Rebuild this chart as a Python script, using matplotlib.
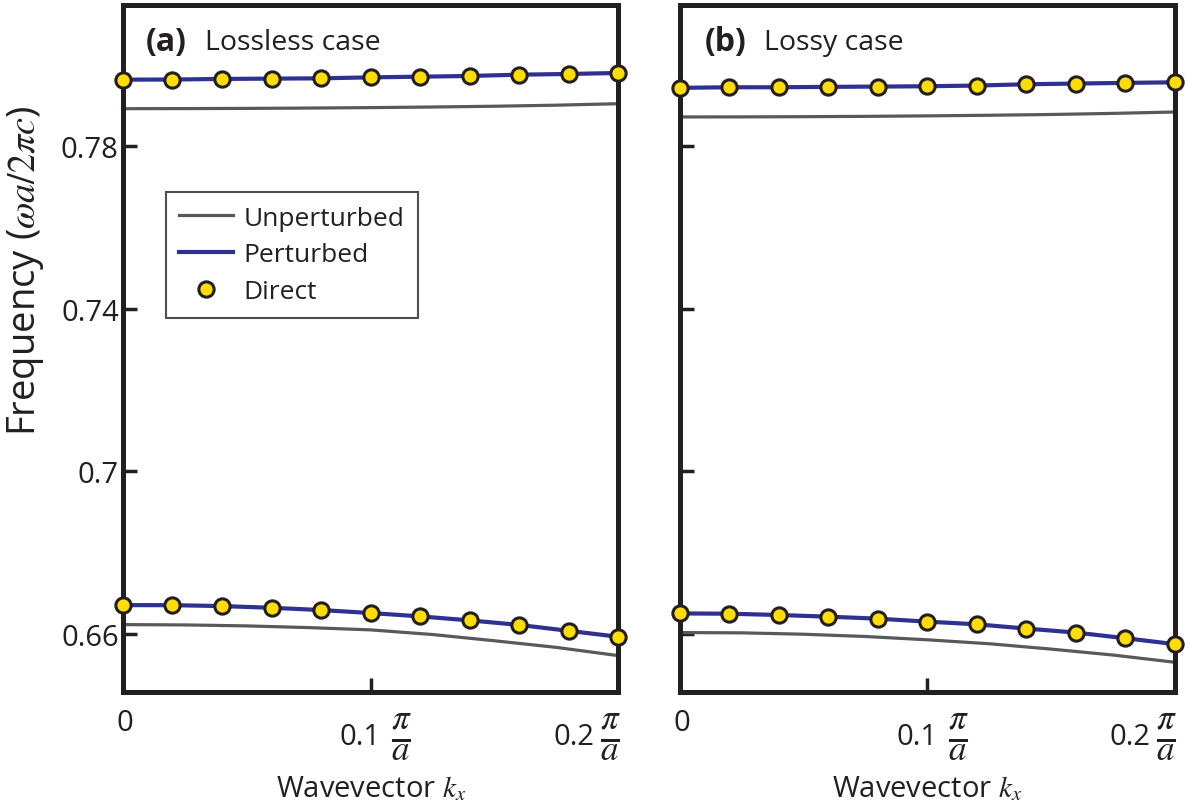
import numpy as np
import matplotlib
matplotlib.use("Agg")
import matplotlib.pyplot as plt

plt.rcParams['font.family'] = ['Open Sans', 'DejaVu Sans']
plt.rcParams['mathtext.fontset'] = 'stix'

# wavevector samples (units of pi/a)
k = [0.0, 0.02, 0.04, 0.06, 0.08, 0.10, 0.12, 0.14, 0.16, 0.18, 0.20]
k_unp = [0.0, 0.025, 0.05, 0.075, 0.10, 0.125, 0.15, 0.175, 0.20]

# (a) lossless case
a_top_pert = [0.79634, 0.79636, 0.79651, 0.79659, 0.79666, 0.79690, 0.79707, 0.79724, 0.79756, 0.79773, 0.79798]
a_bot_pert = [0.66700, 0.66698, 0.66676, 0.66634, 0.66578, 0.66505, 0.66422, 0.66324, 0.66212, 0.66066, 0.65920]
a_top_unp = [0.78919, 0.78921, 0.78926, 0.78934, 0.78945, 0.78960, 0.78979, 0.79005, 0.79041]
a_bot_unp = [0.66220, 0.66212, 0.66188, 0.66146, 0.66090, 0.65976, 0.65822, 0.65659, 0.65456]

# (b) lossy case
b_top_pert = [0.79432, 0.79446, 0.79446, 0.79456, 0.79463, 0.79471, 0.79488, 0.79520, 0.79537, 0.79554, 0.79568]
b_bot_pert = [0.66495, 0.66488, 0.66456, 0.66415, 0.66366, 0.66293, 0.66227, 0.66122, 0.66024, 0.65885, 0.65739]
b_top_unp = [0.78715, 0.78717, 0.78722, 0.78730, 0.78742, 0.78757, 0.78776, 0.78803, 0.78837]
b_bot_unp = [0.66024, 0.66017, 0.65983, 0.65927, 0.65846, 0.65749, 0.65617, 0.65471, 0.65293]

yticks = [0.66, 0.70, 0.74, 0.78]
ytick_labels = ['0.66', '0.7', '0.74', '0.78']
xticks = [0.0, 0.1, 0.2]
xtick_nums = ['0', '0.1', '0.2']

TXT = '#231f20'
BLUE = '#2e3192'
GREY = '#58595b'
YEL = '#ffdd00'

fig = plt.figure(figsize=(11.88, 8.04), dpi=100)
ax1 = fig.add_axes([0.1035, 0.1375, 0.4170, 0.8555])
ax2 = fig.add_axes([0.5724, 0.1375, 0.4165, 0.8555])

panels = [
    (ax1, a_top_pert, a_bot_pert, a_top_unp, a_bot_unp, '(a)', 'Lossless case', 0.046),
    (ax2, b_top_pert, b_bot_pert, b_top_unp, b_bot_unp, '(b)', 'Lossy case', 0.050),
]

for ax, tp, bp, tu, bu, tag, name, tx in panels:
    ax.plot(k_unp, tu, color=GREY, lw=2.3, label='Unperturbed', zorder=2)
    ax.plot(k_unp, bu, color=GREY, lw=2.3, zorder=2)
    ax.plot(k, tp, color=BLUE, lw=3, label='Perturbed', zorder=3)
    ax.plot(k, bp, color=BLUE, lw=3, zorder=3)
    ax.plot(k, tp, 'o', ms=11, mfc=YEL, mec=TXT, mew=2.2, label='Direct',
            zorder=4, clip_on=False)
    ax.plot(k, bp, 'o', ms=11, mfc=YEL, mec=TXT, mew=2.2, zorder=4, clip_on=False)

    ax.set_xlim(0, 0.2)
    ax.set_ylim(0.6455, 0.8148)
    ax.set_yticks(yticks)
    ax.set_xticks(xticks)
    ax.set_xticklabels([])
    ax.tick_params(direction='in', length=10, width=2.5, colors=TXT,
                   labelsize=21, pad=3)
    for s in ax.spines.values():
        s.set_linewidth(3.6)
        s.set_color(TXT)

    # x tick labels: number followed by a pi/a fraction
    trans = ax.get_xaxis_transform()
    ax.annotate(xtick_nums[0], xy=(xticks[0], 0), xycoords=trans,
                xytext=(2, -30), textcoords='offset pixels', ha='center',
                va='center', fontsize=21, color=TXT)
    for xv, lab in zip(xticks[1:], xtick_nums[1:]):
        dn, df = (10, 31) if xv < 0.15 else (-24, -8)
        ax.annotate(lab, xy=(xv, 0), xycoords=trans, xytext=(dn, -44),
                    textcoords='offset pixels', ha='right', va='center',
                    fontsize=21, color=TXT)
        ax.annotate(r'$\frac{\pi}{a}$', xy=(xv, 0), xycoords=trans,
                    xytext=(df, -44), textcoords='offset pixels',
                    ha='center', va='center', fontsize=36, color=TXT)

    ax.set_xlabel(r'Wavevector $k_x$', fontsize=21, color=TXT, labelpad=56)
    ax.text(tx, 0.946, tag, transform=ax.transAxes, fontsize=23,
            fontweight='bold', color=TXT, va='center')
    ax.text(tx + 0.12, 0.946, name, transform=ax.transAxes, fontsize=20.5,
            color=TXT, va='center')

ax1.set_yticklabels(ytick_labels)
ax2.set_yticklabels([])
ax1.set_ylabel(r'Frequency ($\omega a/2\pi c$)', fontsize=27.5, color=TXT)
ax1.yaxis.set_label_coords(-0.155, 0.615)

leg = ax1.legend(loc='upper left', bbox_to_anchor=(0.0867, 0.727), borderaxespad=0,
                 fontsize=19, frameon=True, fancybox=False, edgecolor=TXT,
                 handlelength=2.05, borderpad=0.5, labelspacing=0.45,
                 handletextpad=0.4)
leg.get_frame().set_linewidth(1.5)
for t in leg.get_texts():
    t.set_color(TXT)

fig.savefig('out.png', dpi=100)
